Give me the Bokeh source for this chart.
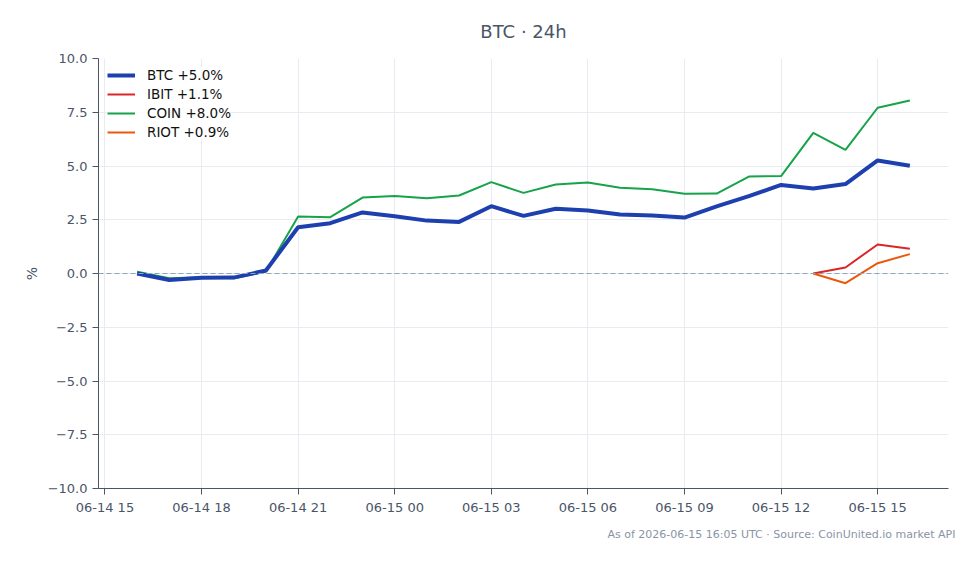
import numpy as np
import pandas as pd
from bokeh.plotting import figure
from bokeh.models import (ColumnDataSource, Span, Legend, LegendItem, FixedTicker,
                          DatetimeTickFormatter, Title, Range1d)
from bokeh.embed import file_html
from bokeh.resources import INLINE

nan = float("nan")
times = pd.date_range("2026-06-14 16:00", periods=25, freq="h")
btc = [0.0, -0.30, -0.20, -0.19, 0.14, 2.15, 2.34, 2.84, 2.66, 2.46, 2.40, 3.13, 2.68,
       3.01, 2.93, 2.74, 2.70, 2.60, 3.12, 3.60, 4.12, 3.95, 4.16, 5.26, 5.01]
coin = [0.08, -0.22, -0.17, -0.22, 0.09, 2.65, 2.62, 3.53, 3.60, 3.50, 3.63, 4.25, 3.75,
        4.14, 4.23, 3.99, 3.92, 3.71, 3.72, 4.51, 4.53, 6.54, 5.75, 7.71, 8.05]
ibit = [nan] * 21 + [0.0, 0.28, 1.35, 1.15]
riot = [nan] * 21 + [0.0, -0.45, 0.48, 0.90]
names = ["BTC +5.0%", "IBIT +1.1%", "COIN +8.0%", "RIOT +0.9%"]
y_ticks = [-10.0, -7.5, -5.0, -2.5, 0.0, 2.5, 5.0, 7.5, 10.0]
x_tick_times = pd.date_range("2026-06-14 15:00", periods=9, freq="3h")

src = ColumnDataSource(dict(t=times, btc=btc, coin=coin, ibit=ibit, riot=riot))

text_col = "#4a5568"
font = "DejaVu Sans"

pad = pd.Timedelta(minutes=72)
p = figure(width=979, height=564, x_axis_type="datetime", output_backend="svg",
           toolbar_location=None,
           x_range=Range1d(times[0] - pad, times[-1] + pad),
           y_range=Range1d(-10, 10),
           min_border_left=98, min_border_right=31, min_border_top=58, min_border_bottom=76)

p.title.text = "BTC · 24h"
p.title.align = "center"
p.title.text_font = font
p.title.text_font_size = "18px"
p.title.text_font_style = "normal"
p.title.text_color = "#4a5568"
p.title.offset = 0
p.title.standoff = 34

p.outline_line_color = None
p.background_fill_color = "white"
p.border_fill_color = "white"
p.xgrid.grid_line_color = "#e8ebf0"
p.ygrid.grid_line_color = "#e8ebf0"

p.xaxis.ticker = FixedTicker(ticks=[t.value / 1e6 for t in x_tick_times])
p.xaxis.formatter = DatetimeTickFormatter(hours="%m-%d %H", days="%m-%d %H", minutes="%m-%d %H")
p.yaxis.ticker = FixedTicker(ticks=y_ticks)
p.yaxis.major_label_overrides = {v: (f"{v:.1f}".replace("-", "\u2212")) for v in y_ticks}
p.yaxis.axis_label = "%"

for ax in (p.xaxis[0], p.yaxis[0]):
    ax.axis_line_color = text_col
    ax.major_tick_line_color = text_col
    ax.minor_tick_line_color = None
    ax.major_tick_out = 6
    ax.major_tick_in = 0
    ax.major_label_text_font = font
    ax.major_label_text_font_size = "13px"
    ax.major_label_text_color = text_col
    ax.axis_label_text_font = font
    ax.axis_label_text_font_size = "14px"
    ax.axis_label_text_font_style = "normal"
    ax.axis_label_text_color = text_col

p.add_layout(Span(location=0, dimension="width", line_color="#8fa3c0",
                  line_dash="5 3", line_width=1))

r_coin = p.line("t", "coin", source=src, line_color="#16a34a", line_width=2)
r_ibit = p.line("t", "ibit", source=src, line_color="#dc2626", line_width=2)
r_riot = p.line("t", "riot", source=src, line_color="#ea580c", line_width=2)
r_btc = p.line("t", "btc", source=src, line_color="#1e40af", line_width=4)

legend = Legend(items=[LegendItem(label=names[0], renderers=[r_btc]),
                       LegendItem(label=names[1], renderers=[r_ibit]),
                       LegendItem(label=names[2], renderers=[r_coin]),
                       LegendItem(label=names[3], renderers=[r_riot])],
                location="top_left")
legend.border_line_color = None
legend.background_fill_alpha = 0.8
legend.label_text_font = font
legend.label_text_font_size = "13.5px"
legend.label_text_color = "#111111"
legend.glyph_width = 28
legend.glyph_height = 14
legend.spacing = 3
legend.margin = 9
legend.padding = 8
legend.label_standoff = 12
p.add_layout(legend)

p.add_layout(Title(text="As of 2026-06-15 16:05 UTC · Source: CoinUnited.io market API",
                   align="right", text_font=font, text_font_size="11px",
                   text_font_style="normal", text_color="#8a94a6", offset=-7,
                   standoff=16), "below")

open("out.html", "w").write(file_html(p, INLINE))
